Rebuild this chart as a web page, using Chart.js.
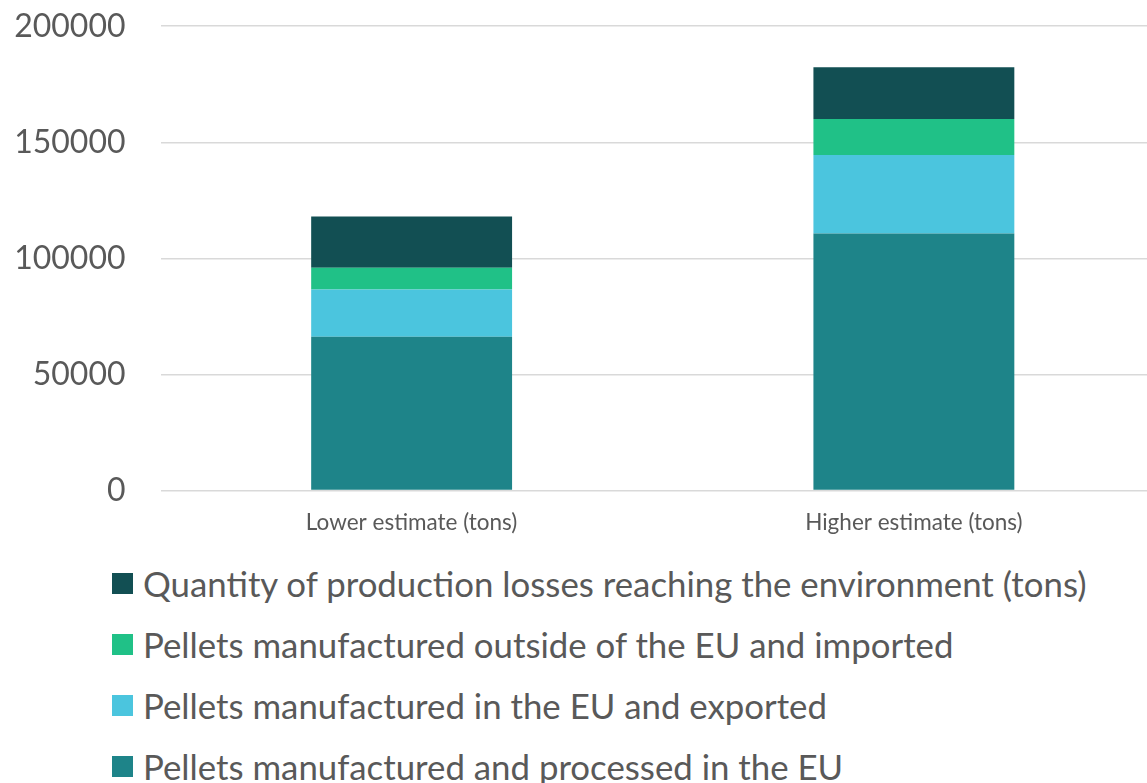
<!DOCTYPE html>
<html>
<head>
<meta charset="utf-8">
<script src="https://cdn.jsdelivr.net/npm/chart.js@4"></script>
<style>
  html, body { margin: 0; padding: 0; background: #fff; overflow: hidden; width: 1147px; height: 783px; }
  #wrap { position: absolute; left: 0; top: -28px; width: 1165px; height: 573px; }
  #legend { position: absolute; left: 112px; top: 553px; font-family: Lato, "Open Sans", sans-serif; color: #595959; }
  .item { height: 61px; display: flex; align-items: center; white-space: nowrap; font-size: 34.8px; }
  .sw { width: 21px; height: 21px; margin-right: 10px; flex: none; }
</style>
</head>
<body>
<div id="wrap"><canvas id="c" width="1165" height="573"></canvas></div>
<div id="legend"></div>
<script>
const categories = ["Lower estimate (tons)", "Higher estimate (tons)"];
const processedEU = [66250, 110750];
const exportedEU = [20300, 33800];
const importedNonEU = [9450, 15450];
const productionLosses = [22050, 22350];
const yTicks = [0, 50000, 100000, 150000, 200000];

const seriesNames = [
  "Pellets manufactured and processed in the EU",
  "Pellets manufactured in the EU and exported",
  "Pellets manufactured outside of the EU and imported",
  "Quantity of production losses reaching the environment (tons)"
];
const seriesColors = ["#1E8489", "#4BC5DE", "#20C187", "#124F53"];
const seriesData = [processedEU, exportedEU, importedNonEU, productionLosses];

const datasets = seriesData.map((d, i) => ({
  label: seriesNames[i],
  data: d,
  backgroundColor: seriesColors[i],
  borderWidth: 0,
  barPercentage: 1,
  categoryPercentage: 0.4
}));

new Chart(document.getElementById('c'), {
  type: 'bar',
  data: { labels: categories, datasets },
  options: {
    responsive: false,
    animation: false,
    layout: { padding: { top: 25, left: 0, right: 0, bottom: 0 } },
    plugins: { legend: { display: false }, tooltip: { enabled: false } },
    scales: {
      x: {
        stacked: true,
        grid: { display: false, drawTicks: false },
        border: { display: false },
        ticks: { color: '#595959', font: { family: 'Lato', size: 22.5 }, padding: 19 },
        afterFit: s => { s.height = 54.5; }
      },
      y: {
        stacked: true,
        min: 0, max: 200000,
        afterBuildTicks: s => { s.ticks = yTicks.map(v => ({ value: v })); },
        grid: { color: '#d9d9d9', lineWidth: 1.5, drawTicks: false },
        border: { display: false },
        ticks: { color: '#595959', font: { family: 'Lato', size: 32 }, padding: 35, callback: v => String(v) },
        afterFit: s => { s.width = 160.5; }
      }
    }
  }
});

const legend = document.getElementById('legend');
for (let i = seriesNames.length - 1; i >= 0; i--) {
  const row = document.createElement('div');
  row.className = 'item';
  const sw = document.createElement('span');
  sw.className = 'sw';
  sw.style.background = seriesColors[i];
  const t = document.createElement('span');
  t.textContent = seriesNames[i];
  row.appendChild(sw); row.appendChild(t);
  legend.appendChild(row);
}
</script>
</body>
</html>
